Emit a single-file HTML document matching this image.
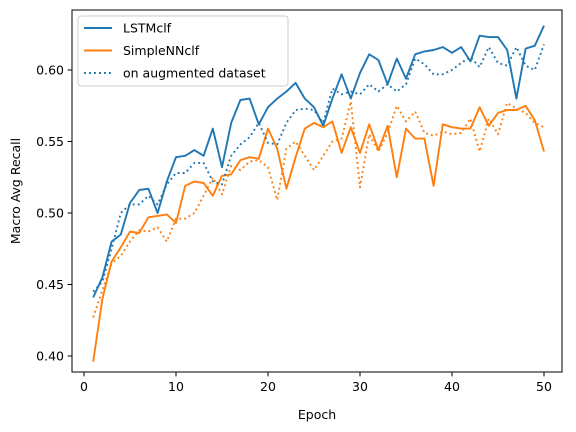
<!DOCTYPE html>
<html><head><meta charset="utf-8"><style>
body{margin:0;background:#fff}
svg{display:block;font-family:"DejaVu Sans","Liberation Sans",sans-serif}
</style></head><body>
<svg id="chart" width="576" height="432" xmlns="http://www.w3.org/2000/svg"></svg>
<script>
const epochs = Array.from({length:50},(_,i)=>i+1);
const lstm = [0.441,0.455,0.480,0.485,0.507,0.516,0.517,0.500,0.522,0.539,0.540,0.544,0.540,0.559,0.532,0.563,0.579,0.580,0.562,0.574,0.580,0.585,0.591,0.580,0.574,0.561,0.580,0.597,0.580,0.598,0.611,0.607,0.590,0.608,0.594,0.611,0.613,0.614,0.616,0.612,0.616,0.606,0.624,0.623,0.623,0.614,0.580,0.615,0.617,0.631];
const lstmAug = [0.445,0.452,0.475,0.500,0.506,0.506,0.512,0.506,0.520,0.528,0.528,0.535,0.535,0.522,0.520,0.540,0.548,0.553,0.563,0.549,0.548,0.563,0.572,0.573,0.572,0.563,0.587,0.583,0.585,0.583,0.590,0.585,0.590,0.585,0.590,0.608,0.604,0.597,0.597,0.600,0.605,0.609,0.602,0.616,0.605,0.603,0.616,0.603,0.600,0.618];
const snn = [0.396,0.440,0.466,0.476,0.487,0.486,0.497,0.498,0.499,0.493,0.519,0.522,0.521,0.512,0.526,0.527,0.537,0.539,0.538,0.559,0.545,0.517,0.539,0.559,0.563,0.560,0.564,0.542,0.560,0.542,0.562,0.544,0.561,0.525,0.559,0.552,0.552,0.519,0.562,0.560,0.559,0.559,0.574,0.561,0.570,0.572,0.572,0.575,0.565,0.543];
const snnAug = [0.427,0.446,0.465,0.470,0.480,0.488,0.487,0.490,0.480,0.496,0.496,0.500,0.512,0.525,0.513,0.533,0.530,0.536,0.537,0.532,0.509,0.545,0.550,0.540,0.530,0.540,0.550,0.552,0.578,0.518,0.555,0.543,0.556,0.575,0.564,0.571,0.556,0.554,0.557,0.555,0.556,0.566,0.543,0.566,0.555,0.577,0.573,0.570,0.563,0.560];
const xTicks = [0,10,20,30,40,50];
const yTicks = [0.40,0.45,0.50,0.55,0.60];

const NS="http://www.w3.org/2000/svg";
const svg=document.getElementById('chart');
const L=72,T=10,R=562,B=372;
const xs=e=>84+(e-0)*9.2;
const ys=v=>356-(v-0.40)*1430;
function mk(tag,attrs,parent){const el=document.createElementNS(NS,tag);for(const k in attrs)el.setAttribute(k,attrs[k]);(parent||svg).appendChild(el);return el;}

const frame=mk('rect',{x:L,y:T,width:R-L,height:B-T,fill:'none',stroke:'#000','stroke-width':1});



xTicks.forEach(t=>{
  const x=xs(t);
  const tk=mk('line',{x1:x,x2:x,y1:B,y2:B+4.4,stroke:'#000','stroke-width':1});
  
  
  const tx=mk('text',{x:x,y:B+19,'text-anchor':'middle','font-size':12.5,fill:'#000'});
  tx.textContent=t;
  
  
});
yTicks.forEach(t=>{
  const y=ys(t);
  const tk=mk('line',{x1:L-4.4,x2:L,y1:y,y2:y,stroke:'#000','stroke-width':1});
  
  
  const tx=mk('text',{x:L-8,y:y+4.5,'text-anchor':'end','font-size':12.5,fill:'#000'});
  tx.textContent=t.toFixed(2);
  
  
});
const xt=mk('text',{x:(L+R)/2,y:419,'text-anchor':'middle','font-size':12.5,fill:'#000'});
xt.textContent='Epoch';


const yt=mk('text',{x:20,y:(T+B)/2,'text-anchor':'middle','font-size':12.5,fill:'#000',transform:`rotate(-90 20 ${(T+B)/2})`});
yt.textContent='Macro Avg Recall';



function series(vals,color,dotted,name){
  const d=vals.map((v,i)=>(i?'L':'M')+xs(epochs[i]).toFixed(1)+' '+ys(v).toFixed(1)).join(' ');
  const p=mk('path',{d:d,fill:'none',stroke:color,'stroke-width':1.9,'stroke-linejoin':'round'});
  if(dotted){p.setAttribute('stroke-dasharray','1.9 3.1');}
  
  
}
series(lstm,'#1f77b4',false,'lstm-line');
series(snn,'#ff7f0e',false,'simplenn-line');
series(lstmAug,'#1f77b4',true,'lstm-augmented-line');
series(snnAug,'#ff7f0e',true,'simplenn-augmented-line');

const lg=mk('g',{});


mk('rect',{x:78,y:16,width:210,height:70,rx:3,fill:'#fff','fill-opacity':0.8,stroke:'#ccc','stroke-width':1},lg);
const entries=[['LSTMclf','#1f77b4',false],['SimpleNNclf','#ff7f0e',false],['on augmented dataset','#1f77b4',true]];
entries.forEach((e,i)=>{
  const y=28+i*22.5;
  const g=mk('g',{},lg);
  
  
  const ln=mk('line',{x1:84,x2:112,y1:y,y2:y,stroke:e[1],'stroke-width':1.9},g);
  if(e[2])ln.setAttribute('stroke-dasharray','1.9 3.1');
  const t=mk('text',{x:123,y:y+4.5,'font-size':12.5,fill:'#000'},g);
  t.textContent=e[0];
});
</script>
</body></html>
